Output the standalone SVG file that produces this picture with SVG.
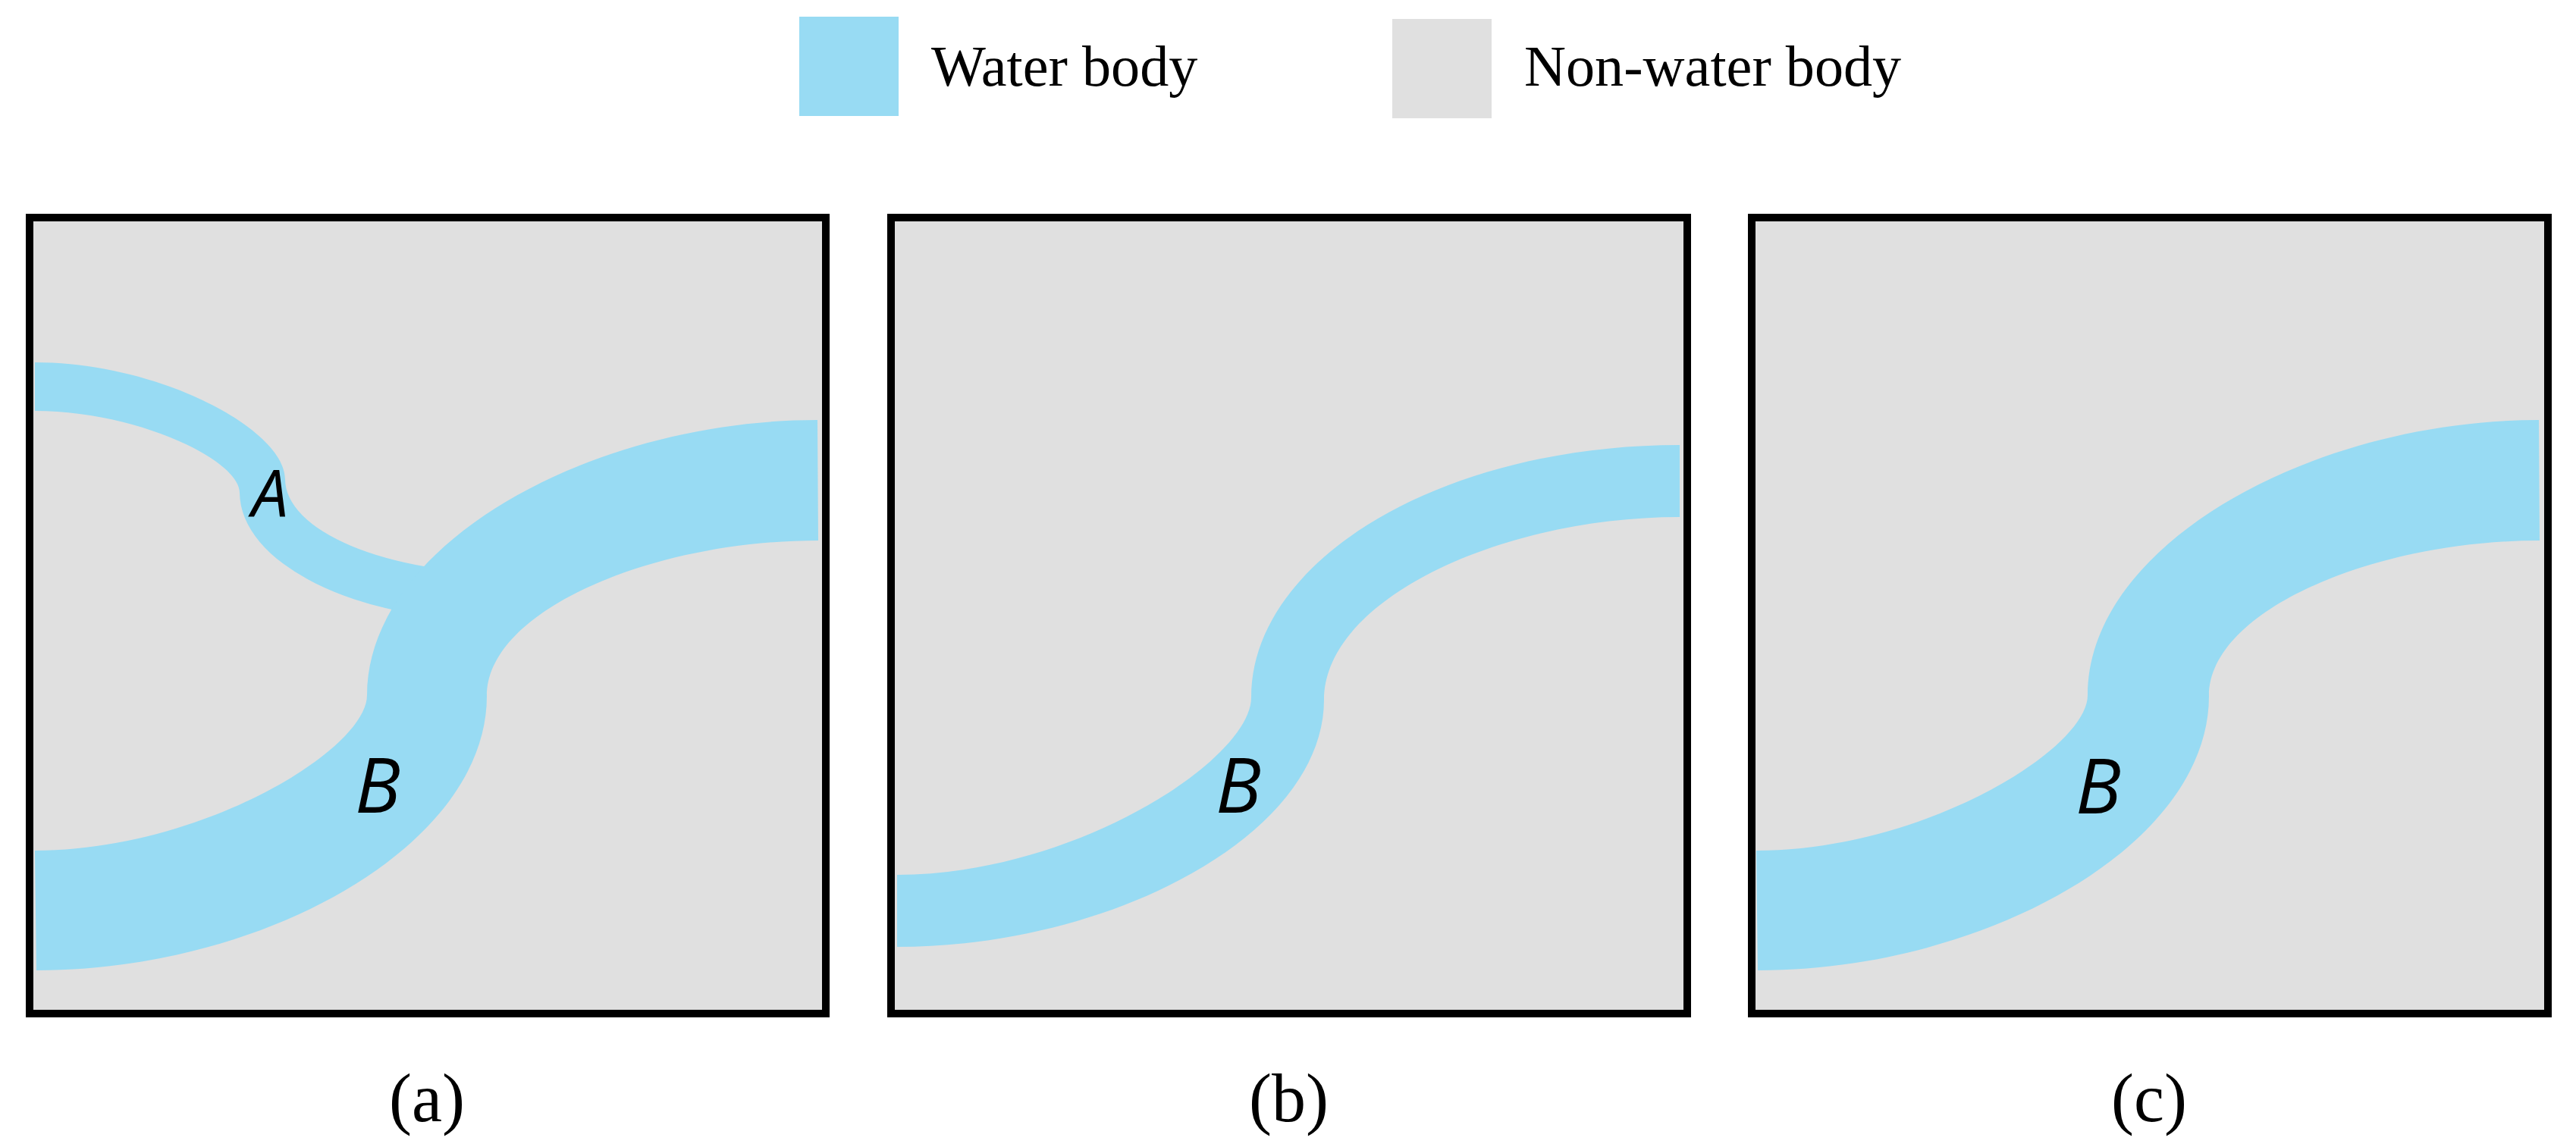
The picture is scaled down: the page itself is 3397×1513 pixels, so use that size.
<svg xmlns="http://www.w3.org/2000/svg" width="3397" height="1513" viewBox="0 0 3397 1513">
<style>
.frame{fill:#e0e0e0;stroke:#000;stroke-width:10}
.water{fill:#98dbf3}
.land{fill:#e0e0e0}
.serif{font-family:"Liberation Serif","Times New Roman",serif;font-size:76.2px;fill:#000}
.serif.label{font-size:90px}
.cap{font-family:"Open Sans","Noto Sans",sans-serif;font-style:italic;fill:#000;font-size:100px}
.cap.small{font-size:86px}
</style>
<rect width="3397" height="1513" fill="#fff"/>
<g id="legend">
<rect class="water" x="1054" y="22" width="131" height="131"/>
<text class="serif" x="1228" y="113">Water body</text>
<rect class="land" x="1836" y="25" width="131" height="131"/>
<text class="serif" x="2010" y="113">Non-water body</text>
</g>
<g id="panel-a">
<rect class="frame" x="39" y="287" width="1050" height="1050"/>
<path class="water" d="M46 478C211 478 376 567 376 632A300 125 0 0 0 675 757L655 819A340 170 0 0 1 316 650C316 607 181 542 46 542Z"/>
<path class="water" d="M1078 554C780.5 554 484 717 484 917C484 989 264.5 1122 46 1122L48 1280C345 1280 642 1117 642 918C642 805 861 713 1079 713Z"/>
<text class="cap small" x="332" y="682">A</text>
<text class="cap" x="468" y="1072">B</text>
<text class="serif label" x="513" y="1479">(a)</text>
</g>
<g id="panel-b">
<rect class="frame" x="1175" y="287" width="1050" height="1050"/>
<path class="water" d="M2215 587C1904 587 1650 737 1650 920C1650 1002 1416.5 1154 1183 1154V1249C1464 1249 1746 1102 1746 923C1746 790 1981 682 2215 682Z"/>
<text class="cap" x="1603" y="1072">B</text>
<text class="serif label" x="1647" y="1479">(b)</text>
</g>
<g id="panel-c">
<rect class="frame" x="2310" y="287" width="1050" height="1050"/>
<path class="water" d="M3348 554C3050.5 554 2753 717 2753 917C2753 989 2534.5 1122 2316 1122L2318 1280C2615 1280 2913 1117 2913 918C2913 805 3131 713 3349 713Z"/>
<text class="cap" x="2737" y="1073">B</text>
<text class="serif label" x="2784" y="1479">(c)</text>
</g>
</svg>
